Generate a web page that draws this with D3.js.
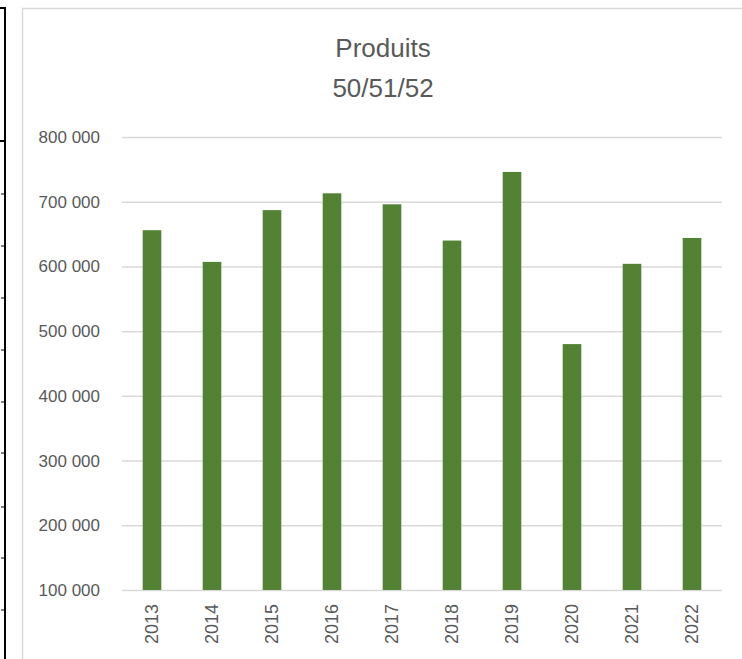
<!DOCTYPE html>
<html>
<head>
<meta charset="utf-8">
<script src="https://cdn.jsdelivr.net/npm/d3@7"></script>
<style>
	body { margin: 0; background: #fff; }
	svg { display: block; }
	text { font-family: "Liberation Sans", Arial, sans-serif; fill: #595959; }
</style>
</head>
<body>
<svg id="chart" width="742" height="659"></svg>
<script>
var years = ["2013", "2014", "2015", "2016", "2017", "2018", "2019", "2020", "2021", "2022"],
	values = [656000, 607000, 687000, 713000, 696000, 640000, 746000, 480000, 604000, 644000],
	yTicks = [100000, 200000, 300000, 400000, 500000, 600000, 700000, 800000],
	titleLines = ["Produits", "50/51/52"];

var svg = d3.select("#chart");

// sheet border left of the chart (cell edge)
var edge = svg.append("g").attr("class", "edge");
edge.append("line")
	.attr("x1", 5).attr("x2", 5).attr("y1", 8).attr("y2", 659)
	.style("stroke", "#000").style("stroke-width", 2);
edge.selectAll("line.h")
	.data([8, 141])
	.enter()
	.append("line")
	.attr("class", "h")
	.attr("x1", 0).attr("x2", 6)
	.attr("y1", function(d) { return d; }).attr("y2", function(d) { return d; })
	.style("stroke", "#000").style("stroke-width", 2);
edge.selectAll("line.t")
	.data([194, 246, 298, 350, 402, 453, 507, 558, 610])
	.enter()
	.append("line")
	.attr("class", "t")
	.attr("x1", 1).attr("x2", 4)
	.attr("y1", function(d) { return d; }).attr("y2", function(d) { return d; })
	.style("stroke", "#555").style("stroke-width", 1.5);

// chart area frame
svg.append("rect")
	.attr("x", 22.5).attr("y", 8.5)
	.attr("width", 760).attr("height", 700)
	.style("fill", "#fff").style("stroke", "#d9d9d9").style("stroke-width", 1.5);

var x = d3.scaleBand()
	.domain(years)
	.range([122, 722])
	.paddingInner(0.69)
	.paddingOuter(0.345);

var y = d3.scaleLinear()
	.domain([100000, 800000])
	.range([590, 137]);

var fmt = function(d) { return d3.format(",")(d).replace(/,/g, " "); };

// gridlines
var gy = svg.append("g")
	.attr("transform", "translate(722,0)")
	.call(d3.axisLeft(y).tickValues(yTicks).tickSize(600).tickFormat(""));
gy.select(".domain").remove();
gy.selectAll(".tick line").style("stroke", "#d9d9d9").style("stroke-width", 1.5);

// y labels
var gl = svg.append("g")
	.attr("transform", "translate(122,0)")
	.call(d3.axisLeft(y).tickValues(yTicks).tickSize(0).tickPadding(22).tickFormat(fmt));
gl.select(".domain").remove();
gl.selectAll("text")
	.style("font-size", "17px")
	.style("font-family", "'Liberation Sans', Arial, sans-serif")
	.style("fill", "#595959");

// bars
svg.append("g").selectAll("rect")
	.data(values)
	.enter()
	.append("rect")
	.attr("x", function(d, i) { return x(years[i]); })
	.attr("width", x.bandwidth())
	.attr("y", function(d) { return y(d); })
	.attr("height", function(d) { return y(100000) - y(d); })
	.style("fill", "#548235");

// x labels
var gx = svg.append("g")
	.attr("transform", "translate(0," + y(100000) + ")")
	.call(d3.axisBottom(x).tickSize(0).tickPadding(0));
gx.select(".domain").remove();
gx.selectAll("text")
	.attr("transform", "rotate(-90)")
	.attr("x", -14).attr("y", 0).attr("dy", "0.35em")
	.style("text-anchor", "end")
	.style("font-size", "18px")
	.style("font-family", "'Liberation Sans', Arial, sans-serif")
	.style("fill", "#595959");

// title
svg.append("g").selectAll("text")
	.data(titleLines)
	.enter()
	.append("text")
	.attr("x", 383)
	.attr("y", function(d, i) { return 57 + i * 40; })
	.attr("text-anchor", "middle")
	.style("font-size", "26px")
	.text(function(d) { return d; });
</script>
</body>
</html>
